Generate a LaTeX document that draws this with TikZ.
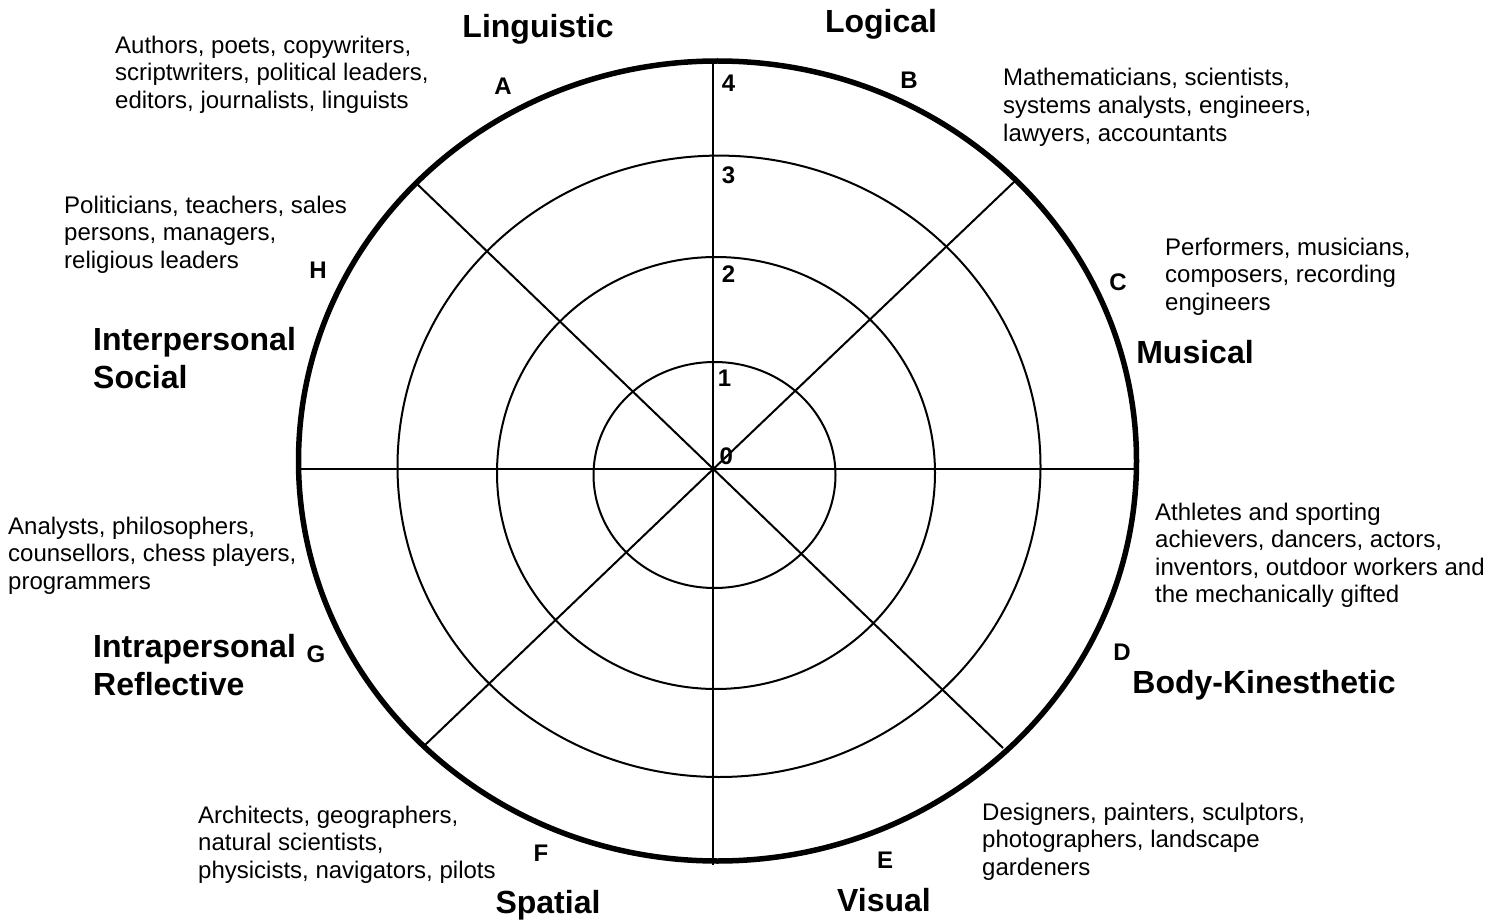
\documentclass[tikz,border=0pt]{standalone}
\usepackage{fontspec}
\setmainfont{Liberation Sans}
\usetikzlibrary{calc}
\tikzset{>=latex}
\tikzset{
  ring/.style={line width=2pt},
  rim/.style={line width=5.5pt},
  spoke/.style={line width=2pt},
  jobs/.style={anchor=base west, align=left, inner sep=0pt, font=\fontsize{24}{27.6}\selectfont},
  kind/.style={anchor=base, inner sep=0pt, font=\fontsize{32}{38}\selectfont\bfseries},
  kindl/.style={anchor=base west, align=left, inner sep=0pt, font=\fontsize{32}{38}\selectfont\bfseries},
  letter/.style={anchor=base, inner sep=0pt, font=\fontsize{24}{28}\selectfont\bfseries},
  level/.style={anchor=base west, inner sep=0pt, font=\fontsize{24}{28}\selectfont\bfseries},
}

\begin{document}
\begin{tikzpicture}[x=1pt, y=-1pt]
\useasboundingbox (0,0) rectangle (1500,920);
\coordinate (O) at (713.3,469);
% rings
\draw[ring] (714.5,475) ellipse [x radius=121, y radius=113];
\draw[ring] (716,473) ellipse [x radius=219, y radius=216];
\draw[ring] (719,466.3) ellipse [x radius=321.5, y radius=310.7];
\draw[rim] (717.5,461) ellipse [x radius=419, y radius=400];
% spokes
\draw[spoke] (O) -- (298,469);
\draw[spoke] (O) -- (1137,469);
\draw[spoke] (O) -- (713.3,60);
\draw[spoke] (O) -- (713.3,865);
\draw[spoke] (O) -- (415.7,182.7);
\draw[spoke] (O) -- (1015,181);
\draw[spoke] (O) -- (425,745);
\draw[spoke] (O) -- (1003,748);
% levels
\node[level] (l4) at (721.7,91.7) {4};
\node[level] (l3) at (721.7,183.3) {3};
\node[level] (l2) at (721.7,282.7) {2};
\node[level] (l1) at (717.7,386.7) {1};
\node[level] (l0) at (719.3,464) {0};
% sector letters
\node[letter] (A) at (503,94.5) {A};
\node[letter] (B) at (909,88.5) {B};
\node[letter] (C) at (1118,290.5) {C};
\node[letter] (D) at (1122,660.5) {D};
\node[letter] (E) at (885,868.5) {E};
\node[letter] (F) at (541,861.5) {F};
\node[letter] (G) at (316,662.5) {G};
\node[letter] (H) at (318,279) {H};
% intelligences (base = last line)
\node[kind] (ling) at (538,38) {Linguistic};
\node[kind] (logi) at (881,33) {Logical};
\node[kind] (musi) at (1195,363) {Musical};
\node[kind] (body) at (1264,693) {Body-Kinesthetic};
\node[kind] (visu) at (884,911) {Visual};
\node[kind] (spat) at (548,913) {Spatial};
\node[kindl] (inter) at (93,388) {Interpersonal\\Social};
\node[kindl] (intra) at (93,695) {Intrapersonal\\Reflective};
% careers
\node[jobs] (jA) at (115,108.5) {Authors, poets, copywriters,\\scriptwriters, political leaders,\\editors, journalists, linguists};
\node[jobs] (jB) at (1003,141.2) {Mathematicians, scientists,\\systems analysts, engineers,\\lawyers, accountants};
\node[jobs] (jC) at (1165,310.2) {Performers, musicians,\\composers, recording\\engineers};
\node[jobs] (jD) at (1155,602.8) {Athletes and sporting\\achievers, dancers, actors,\\inventors, outdoor workers and\\the mechanically gifted};
\node[jobs] (jE) at (982,875.2) {Designers, painters, sculptors,\\photographers, landscape\\gardeners};
\node[jobs] (jF) at (198,878.2) {Architects, geographers,\\natural scientists,\\physicists, navigators, pilots};
\node[jobs] (jG) at (8,589.2) {Analysts, philosophers,\\counsellors, chess players,\\programmers};
\node[jobs] (jH) at (64,268.5) {Politicians, teachers, sales\\persons, managers,\\religious leaders};
\end{tikzpicture}
\end{document}
